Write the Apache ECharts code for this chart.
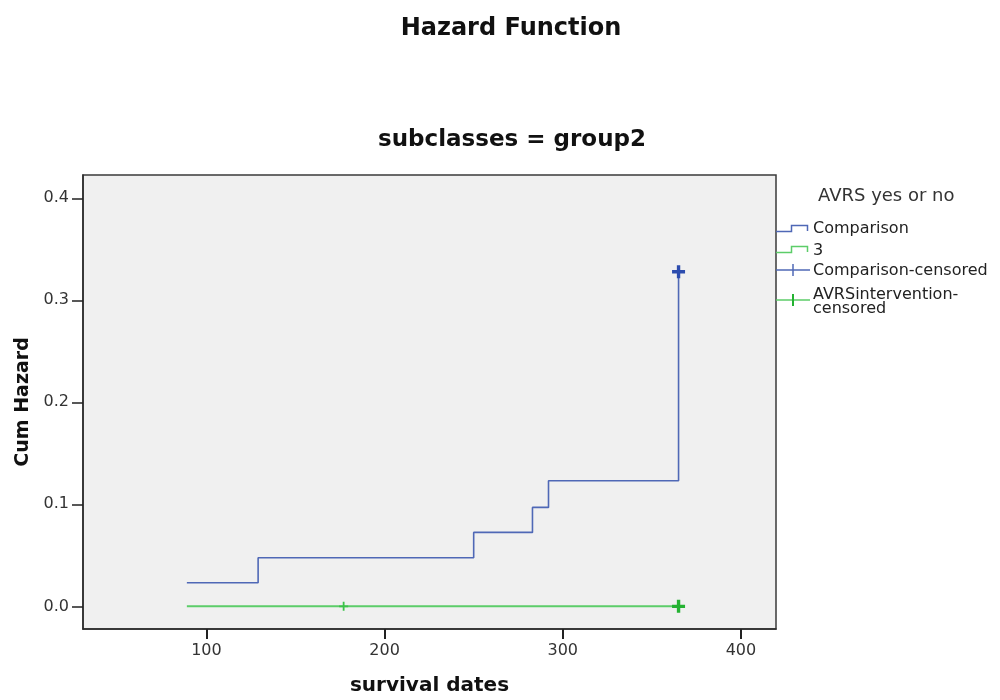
<!DOCTYPE html>
<html>
<head>
<meta charset="utf-8">
<script src="https://cdn.jsdelivr.net/npm/echarts@6/dist/echarts.min.js"></script>
<style>
  html, body { margin: 0; padding: 0; background: #ffffff; }
  #chart { width: 1000px; height: 700px; }
</style>
</head>
<body>
<div id="chart"></div>
<script>
// Cumulative hazard, Comparison group (step function)
const compTimes  = [89, 129, 250, 283, 292, 365];
const compHazard = [0.0231, 0.0476, 0.0725, 0.0970, 0.1231, 0.3280];

// Intervention group "3": no events, hazard stays at zero
const intTimes  = [89, 365];
const intHazard = [0, 0];

// Censored observations
const compCensTimes  = [365];
const compCensHazard = [0.3280];
const intCensTimes   = [177, 365];
const intCensHazard  = [0, 0];
const intCensWeight  = ['light', 'heavy'];

// Axis ticks
const xTicks = [100, 200, 300, 400];
const yTicks = [0, 0.1, 0.2, 0.3, 0.4];

const legendTitle = 'AVRS yes or no';
const legendNames = ['Comparison', '3', 'Comparison-censored', 'AVRSintervention-\ncensored'];

const BLUE_LINE = '#4f68b6';
const BLUE_MARK = '#2c4cae';
const GREEN_LINE = '#5ccd69';
const GREEN_MARK = '#24b232';
const FONT = '"DejaVu Sans", "Liberation Sans", sans-serif';

// plus-sign symbols (filled outlines)
const PLUS_BOLD = 'path://M3.7,0H6.3V3.7H10V6.3H6.3V10H3.7V6.3H0V3.7H3.7Z';
const PLUS_THIN = 'path://M4,0H6V4H10V6H6V10H4V6H0V4H4Z';

const zip = (xs, ys) => xs.map((x, i) => [x, ys[i]]);

const chart = echarts.init(document.getElementById('chart'), null, { renderer: 'canvas' });

// legend drawn at the right of the plot frame
const LX = 776, TX = 813;
const legendGraphics = [
  { type: 'text', left: 818, top: 187,
    style: { text: legendTitle, font: '18px ' + FONT, fill: '#333' } },
  // step icon, Comparison
  { type: 'polyline', shape: { points: [[LX, 231.5], [791.5, 231.5], [791.5, 225.5], [807.5, 225.5], [807.5, 231]] },
    style: { stroke: BLUE_LINE, lineWidth: 1.5, fill: null } },
  { type: 'text', x: TX, y: 229,
    style: { text: legendNames[0], font: '16px ' + FONT, fill: '#222', verticalAlign: 'middle' } },
  // step icon, 3
  { type: 'polyline', shape: { points: [[LX, 252.5], [791.5, 252.5], [791.5, 246.5], [807.5, 246.5], [807.5, 252]] },
    style: { stroke: GREEN_LINE, lineWidth: 1.5, fill: null } },
  { type: 'text', x: TX, y: 251,
    style: { text: legendNames[1], font: '16px ' + FONT, fill: '#222', verticalAlign: 'middle' } },
  // censor icon, Comparison
  { type: 'line', shape: { x1: LX, y1: 270, x2: 810, y2: 270 },
    style: { stroke: BLUE_LINE, lineWidth: 1.5 } },
  { type: 'line', shape: { x1: 793, y1: 264, x2: 793, y2: 276 },
    style: { stroke: BLUE_LINE, lineWidth: 1.5 } },
  { type: 'text', x: TX, y: 271,
    style: { text: legendNames[2], font: '16px ' + FONT, fill: '#222', verticalAlign: 'middle' } },
  // censor icon, intervention
  { type: 'line', shape: { x1: LX, y1: 300, x2: 810, y2: 300 },
    style: { stroke: GREEN_LINE, lineWidth: 1.5 } },
  { type: 'line', shape: { x1: 793, y1: 294, x2: 793, y2: 306 },
    style: { stroke: GREEN_MARK, lineWidth: 2 } },
  { type: 'text', x: TX, y: 302,
    style: { text: legendNames[3], font: '16px ' + FONT, fill: '#222', verticalAlign: 'middle', lineHeight: 13.5 } }
];

const option = {
  animation: false,
  backgroundColor: '#ffffff',
  title: [
    { text: 'Hazard Function', left: 506, top: 12, textAlign: 'center',
      textStyle: { fontFamily: FONT, fontSize: 24, fontWeight: 'bold', color: '#111' } },
    { text: 'subclasses = group2', left: 507, top: 124, textAlign: 'center',
      textStyle: { fontFamily: FONT, fontSize: 23, fontWeight: 'bold', color: '#111' } }
  ],
  grid: {
    left: 83, right: 224, top: 175, bottom: 71,
    containLabel: false, outerBoundsMode: 'none',
    show: true, backgroundColor: '#f0f0f0', borderColor: '#3a3a3a', borderWidth: 1.5
  },
  xAxis: {
    type: 'value', min: 30.7, max: 419.7,
    name: 'survival dates', nameLocation: 'middle', nameGap: 47,
    nameTextStyle: { fontFamily: FONT, fontSize: 20, fontWeight: 'bold', color: '#111' },
    axisLine: { show: true, onZero: false, lineStyle: { color: '#2a2a2a', width: 1.5 } },
    axisTick: { show: true, inside: false, length: 10, customValues: xTicks,
      lineStyle: { color: '#222', width: 2 } },
    axisLabel: { customValues: xTicks, margin: 14, fontFamily: FONT, fontSize: 16, color: '#333' },
    splitLine: { show: false }
  },
  yAxis: {
    type: 'value', min: -0.0222, max: 0.4228,
    name: 'Cum Hazard', nameLocation: 'middle', nameGap: 48,
    nameTextStyle: { fontFamily: FONT, fontSize: 19, fontWeight: 'bold', color: '#111' },
    axisLine: { show: true, onZero: false, lineStyle: { color: '#2a2a2a', width: 1.5 } },
    axisTick: { show: true, inside: false, length: 11, customValues: yTicks,
      lineStyle: { color: '#222', width: 1.5 } },
    axisLabel: { customValues: yTicks, margin: 14, fontFamily: FONT, fontSize: 16, color: '#333',
      formatter: v => v.toFixed(1) },
    splitLine: { show: false }
  },
  series: [
    { name: 'Comparison', type: 'line', step: 'end', symbol: 'none',
      data: zip(compTimes, compHazard),
      lineStyle: { color: BLUE_LINE, width: 1.6 }, z: 3 },
    { name: '3', type: 'line', step: 'end', symbol: 'none',
      data: zip(intTimes, intHazard),
      lineStyle: { color: GREEN_LINE, width: 2 }, z: 3 },
    { name: 'Comparison-censored', type: 'scatter', symbol: PLUS_BOLD, symbolSize: 13,
      data: zip(compCensTimes, compCensHazard),
      itemStyle: { color: BLUE_MARK, opacity: 1 }, z: 4 },
    { name: 'AVRSintervention-censored', type: 'scatter', z: 4,
      data: intCensTimes.map((t, i) => ({
        value: [t, intCensHazard[i]],
        symbol: intCensWeight[i] === 'heavy' ? PLUS_BOLD : PLUS_THIN,
        symbolSize: intCensWeight[i] === 'heavy' ? 13 : 9,
        itemStyle: { color: intCensWeight[i] === 'heavy' ? GREEN_MARK : '#3cc24a', opacity: 1 }
      })) }
  ],
  graphic: legendGraphics
};

chart.setOption(option);
</script>
</body>
</html>
